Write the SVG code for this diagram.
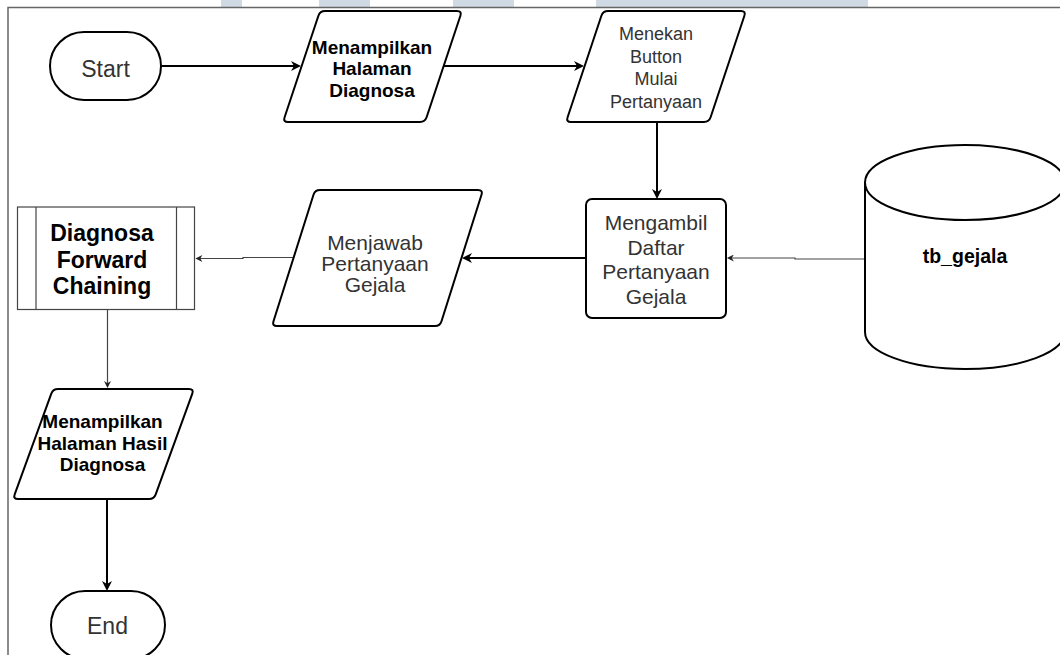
<svg xmlns="http://www.w3.org/2000/svg" width="1060" height="655" viewBox="0 0 1060 655">
<style>
.shape{fill:#fff;stroke:#000;stroke-width:2}
.thin{fill:#fff;stroke:#444;stroke-width:1.2}
.edge{fill:none;stroke:#000;stroke-width:2}
.edgeThin{fill:none;stroke:#444;stroke-width:1.2}
.t{font-family:"Liberation Sans",Arial,sans-serif;fill:#333;text-anchor:middle}
.b{font-family:"Liberation Sans",Arial,sans-serif;fill:#000;font-weight:bold;text-anchor:middle}
.wm{fill:#d0dae5}
</style>
<defs>
<marker id="arrow" viewBox="0 0 10 10" refX="7" refY="5" markerWidth="11" markerHeight="10" markerUnits="userSpaceOnUse" orient="auto">
<path d="M0,0 L10,5 L0,10 L3,5 Z" fill="#000"/>
</marker>
<marker id="arrowThin" viewBox="0 0 10 10" refX="7" refY="5" markerWidth="8" markerHeight="7" markerUnits="userSpaceOnUse" orient="auto">
<path d="M0,0 L10,5 L0,10 L3,5 Z" fill="#222"/>
</marker>
</defs>
<rect x="0" y="0" width="1060" height="655" fill="#fff"/>
<g id="watermark">
<rect class="wm" x="221" y="0" width="21" height="7"/>
<rect class="wm" x="319" y="0" width="51" height="7"/>
<rect class="wm" x="453" y="0" width="61" height="7"/>
<rect class="wm" x="596" y="0" width="272" height="7"/>
</g>
<g id="frame" fill="none" stroke="#666" stroke-width="1.5">
<path d="M8,655 L8,7.5 L1060,7.5"/>
</g>
<g id="connectors">
<path class="edge" d="M161,66 L298,66" marker-end="url(#arrow)"/>
<path class="edge" d="M443,66 L581,66" marker-end="url(#arrow)"/>
<path class="edge" d="M657,122 L657,196" marker-end="url(#arrow)"/>
<path class="edgeThin" d="M865,259 L795,259 L795,258 L729,258" marker-end="url(#arrowThin)"/>
<path class="edge" d="M586,258 L465,258" marker-end="url(#arrow)"/>
<path class="edgeThin" d="M293.5,257.5 L243,257.5 L243,258.5 L197.5,258.5" marker-end="url(#arrowThin)"/>
<path class="edgeThin" d="M107.5,309.5 L107.5,386" marker-end="url(#arrowThin)"/>
<path class="edge" d="M107,499 L107,588" marker-end="url(#arrow)"/>
</g>
<g id="start">
<rect class="shape" x="50" y="32" width="111" height="68" rx="34" ry="34"/>
<text class="t" x="105.5" y="77" font-size="23">Start</text>
</g>
<g id="menampilkan-halaman-diagnosa">
<path class="shape" d="M325,11 L457,11 Q462,11 460.4,15.7 L426.6,117.3 Q425,122 420,122 L288,122 Q283,122 284.6,117.3 L318.4,15.7 Q320,11 325,11 Z"/>
<text class="b" x="372" font-size="19"><tspan x="372" y="53.5">Menampilkan</tspan><tspan x="372" y="75">Halaman</tspan><tspan x="372" y="96.5">Diagnosa</tspan></text>
</g>
<g id="menekan-button">
<path class="shape" d="M608,11 L741,11 Q746,11 744.4,15.7 L710.6,117.3 Q709,122 704,122 L571,122 Q566,122 567.6,117.3 L601.4,15.7 Q603,11 608,11 Z"/>
<text class="t" x="656" font-size="18"><tspan x="656" y="40">Menekan</tspan><tspan x="656" y="62.5">Button</tspan><tspan x="656" y="85">Mulai</tspan><tspan x="656" y="107.5">Pertanyaan</tspan></text>
</g>
<g id="mengambil-daftar">
<rect class="shape" x="586" y="199" width="140" height="119" rx="6" ry="6"/>
<text class="t" x="656" font-size="21"><tspan x="656" y="230">Mengambil</tspan><tspan x="656" y="254.5">Daftar</tspan><tspan x="656" y="279">Pertanyaan</tspan><tspan x="656" y="303.5">Gejala</tspan></text>
</g>
<g id="tb-gejala">
<path class="shape" d="M865,182.5 L865,332 A100,37 0 0 0 1065,332 L1065,182.5"/>
<ellipse class="shape" cx="965" cy="182.5" rx="100" ry="37.5"/>
<text class="b" x="965" y="263" font-size="19.5">tb_gejala</text>
</g>
<g id="menjawab-pertanyaan">
<path class="shape" d="M320,190 L478,190 Q483,190 481.5,194.8 L441.5,321.2 Q440,326 435,326 L277,326 Q272,326 273.5,321.2 L313.5,194.8 Q315,190 320,190 Z"/>
<text class="t" x="375" font-size="21"><tspan x="375" y="249.5">Menjawab</tspan><tspan x="375" y="270.5">Pertanyaan</tspan><tspan x="375" y="291.5">Gejala</tspan></text>
</g>
<g id="diagnosa-forward-chaining">
<rect class="thin" x="17.5" y="207" width="177" height="102.5"/>
<line class="thin" x1="36" y1="207" x2="36" y2="309.5"/>
<line class="thin" x1="176.5" y1="207" x2="176.5" y2="309.5"/>
<text class="b" x="102" font-size="23"><tspan x="102" y="241">Diagnosa</tspan><tspan x="102" y="267.5">Forward</tspan><tspan x="102" y="294">Chaining</tspan></text>
</g>
<g id="menampilkan-hasil">
<path class="shape" d="M58,389 L189,389 Q194,389 192.3,393.7 L155.7,494.3 Q154,499 149,499 L18,499 Q13,499 14.7,494.3 L51.3,393.7 Q53,389 58,389 Z"/>
<text class="b" x="102.5" font-size="19"><tspan x="102.5" y="428">Menampilkan</tspan><tspan x="102.5" y="449.7">Halaman Hasil</tspan><tspan x="102.5" y="471.4">Diagnosa</tspan></text>
</g>
<g id="end">
<rect class="shape" x="51" y="591" width="114" height="68" rx="34" ry="34"/>
<text class="t" x="107.5" y="634" font-size="23">End</text>
</g>
</svg>
